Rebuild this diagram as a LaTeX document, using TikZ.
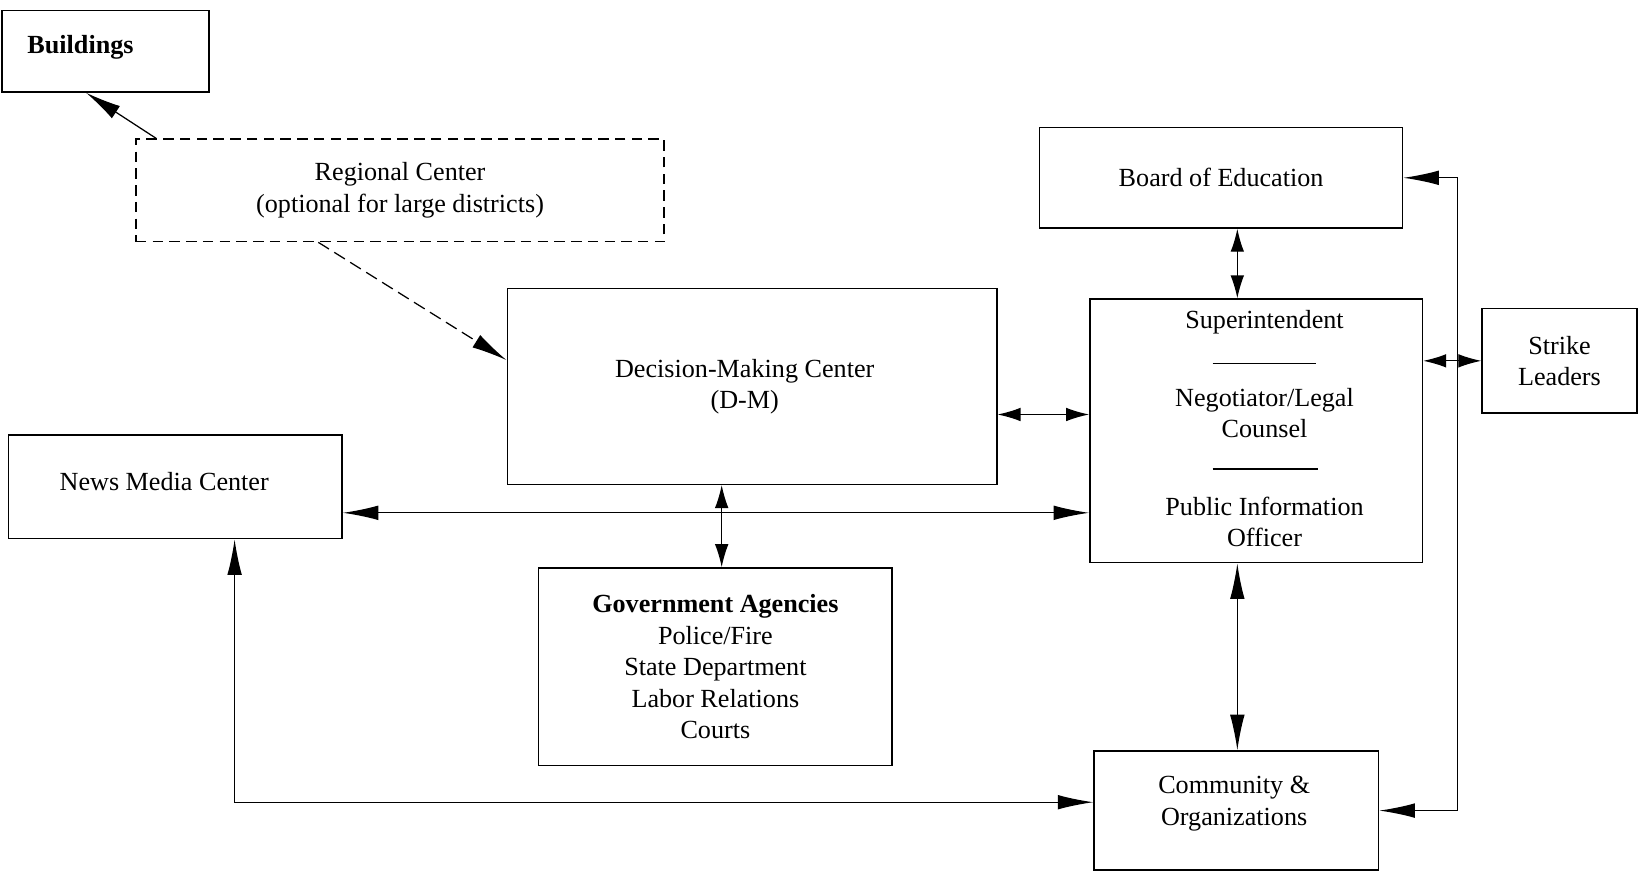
\documentclass[tikz,border=0pt]{standalone}
\usepackage{fontspec}
\setmainfont{Liberation Serif}
\usetikzlibrary{arrows.meta,calc}
\begin{document}
\begin{tikzpicture}[x=0.5pt,y=-0.5pt,
  every node/.style={font=\fontsize{12.5}{15}\selectfont},
  box/.style={draw, line width=0.7pt, inner sep=0pt},
  arr/.style={line width=0.6pt, -{Latex[length=17pt,width=7pt]}},
  darr/.style={line width=0.6pt, {Latex[length=17pt,width=7pt]}-{Latex[length=17pt,width=7pt]}},
  sdarr/.style={line width=0.6pt, {Latex[length=11pt,width=6.5pt]}-{Latex[length=11pt,width=6.5pt]}},
  rulel/.style={line width=0.6pt}]
\useasboundingbox (0,0) rectangle (1568,833);
% boxes
\node[box, minimum width=99pt, minimum height=39pt] (bld) at (101,49) {};
\node[font=\fontsize{12.5}{15}\selectfont\bfseries] (bldt) at (77,45) {Buildings};
\node[box, dashed, dash pattern=on 5pt off 3pt, minimum width=252.5pt, minimum height=49pt, align=center] (reg) at (382.5,182) {Regional Center\\(optional for large districts)};
\node[box, minimum width=234pt, minimum height=93.5pt] (dm) at (719,369.5) {};
\node[align=center] (dmt) at (712,370) {Decision-Making Center\\(D-M)};
\node[box, minimum width=173.5pt, minimum height=48pt] (board) at (1167.5,170) {Board of Education};
\node[box, minimum width=159pt, minimum height=126pt] (super) at (1201,412) {};
\node (s1) at (1209,308) {Superintendent};
\node[align=center] (s2) at (1209,395) {Negotiator/Legal\\Counsel};
\node[align=center] (s3) at (1209,499) {Public Information\\Officer};
\draw[rulel] ($(super.north west)+(118,62)$) coordinate (r1a) -- (r1a -| 1258,0);
\draw[rulel] ($(super.north west)+(118,163)$) coordinate (r2a) -- (r2a -| 1260,0);
\node[box, minimum width=74pt, minimum height=50pt, align=center] (strike) at (1491,345) {Strike\\Leaders};
\node[box, minimum width=159.5pt, minimum height=49.5pt] (news) at (167.5,465.5) {};
\node (newst) at (157,460) {News Media Center};
\node[box, minimum width=169pt, minimum height=94.5pt, align=center] (gov) at (684,637.5) {\textbf{Government Agencies}\\Police/Fire\\State Department\\Labor Relations\\Courts};
\node[box, minimum width=136pt, minimum height=57pt] (comm) at (1182,775) {};
\node[align=center] (commt) at (1180,768.5) {Community \&\\Organizations};
% connectors
\draw[arr] ($(reg.north west)+(20,0)$) -- ($(bld.south west)+(81,0)$);
\draw[arr, dashed, dash pattern=on 6pt off 3pt] ($(reg.south west)+(175,0)$) -- ($(dm.north west)+(0,69)$);
\draw[sdarr] ($(board.south)+(15.5,0)$) coordinate (t1) -- (t1 |- super.north);
\draw[sdarr] ($(dm.north east)+(0,121)$) coordinate (t2) -- (t2 -| super.west);
\draw[sdarr] (strike.west) -- (strike.west -| super.east);
\draw[darr] (board.east) -- ++(52,0) |- (comm.east);
\draw[darr] ($(news.north east)+(0,75)$) coordinate (t3) -- (t3 -| super.west);
\draw[sdarr] ($(gov.north)+(6,0)$) coordinate (t4) -- (t4 |- dm.south);
\draw[darr] ($(comm.north)+(1,0)$) coordinate (t5) -- (t5 |- super.south);
\draw[darr] ($(news.south west)+(217,0)$) |- ($(comm.west)+(0,-8)$);
\end{tikzpicture}
\end{document}
